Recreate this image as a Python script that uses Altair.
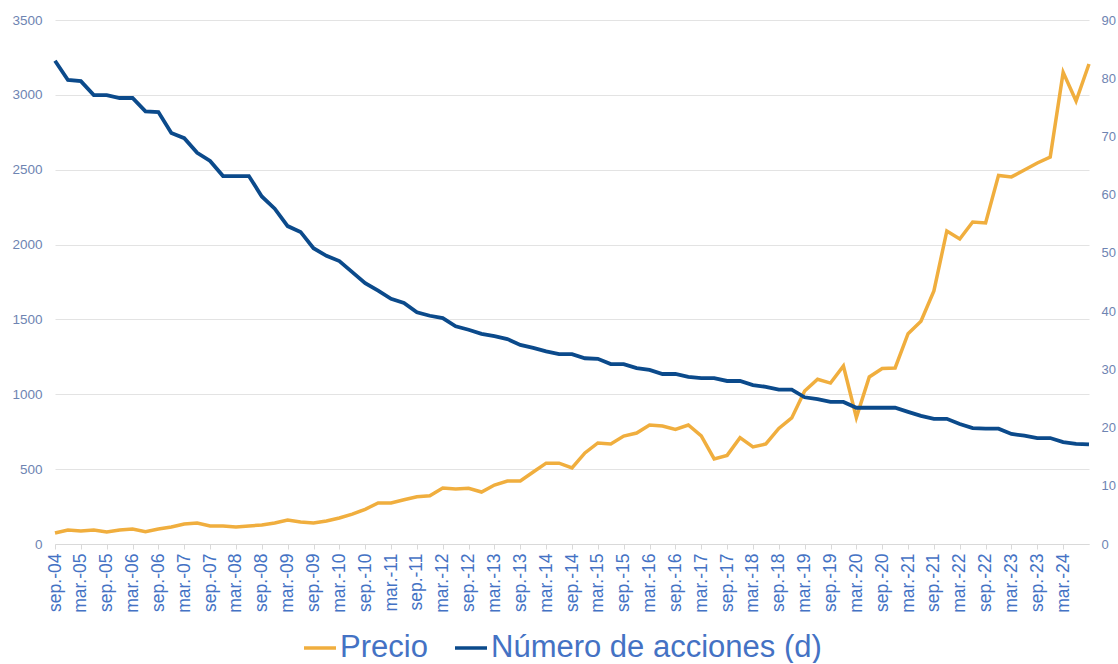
import altair as alt
import pandas as pd

# Quarterly periods sep-04 .. sep-24
meses = ["sep.", "dic.", "mar.", "jun."]
periodos = []
anio = 4
for i in range(81):
    m = meses[i % 4]
    if m == "mar.":
        anio += 1
    periodos.append(f"{m}-{anio:02d}")

precio = [73, 94, 87, 94, 80, 94, 100, 82, 100, 114, 134, 140, 120, 120, 114, 120,
          127, 140, 160, 147, 140, 154, 174, 200, 232, 274, 274, 296, 316, 322,
          374, 367, 372, 347, 394, 421, 421, 481, 540, 540, 508, 608, 675, 668,
          721, 741, 795, 788, 765, 795, 722, 568, 592, 710, 648, 668, 772, 842,
          1022, 1100, 1075, 1189, 845, 1116, 1172, 1176, 1405, 1488, 1690, 2091,
          2037, 2151, 2144, 2462, 2452, 2498, 2545, 2585, 3150, 2959, 3206]

acciones = [83.0, 79.7, 79.5, 77.1, 77.1, 76.6, 76.6, 74.3, 74.2, 70.6, 69.7, 67.2,
            65.8, 63.2, 63.2, 63.2, 59.7, 57.6, 54.6, 53.6, 50.8, 49.5, 48.6, 46.7,
            44.8, 43.5, 42.1, 41.4, 39.8, 39.2, 38.8, 37.4, 36.8, 36.1, 35.7, 35.2,
            34.2, 33.7, 33.1, 32.6, 32.6, 31.9, 31.8, 30.9, 30.9, 30.2, 29.9, 29.2,
            29.2, 28.7, 28.5, 28.5, 28.0, 28.0, 27.3, 27.0, 26.5, 26.5, 25.2, 24.9,
            24.4, 24.4, 23.4, 23.4, 23.4, 23.4, 22.7, 22.0, 21.5, 21.5, 20.6, 19.9,
            19.8, 19.8, 18.9, 18.6, 18.2, 18.2, 17.5, 17.2, 17.1]

series = ["Precio", "Número de acciones (d)"]
colores = ["#F0AE3E", "#0B4A8B"]
etiquetas_x = [p for i, p in enumerate(periodos) if i % 2 == 0 and i < 80]
ticks_izq = [0, 500, 1000, 1500, 2000, 2500, 3000, 3500]
ticks_der = [0, 10, 20, 30, 40, 50, 60, 70, 80, 90]

df_p = pd.DataFrame({"periodo": periodos, "valor": precio, "serie": series[0]})
df_a = pd.DataFrame({"periodo": periodos, "valor": acciones, "serie": series[1]})

FONT = "Liberation Sans"
LABEL_Y = "#6E84B2"
LABEL_X = "#4472C4"

x_enc = alt.X(
    "periodo:N",
    sort=periodos,
    scale=alt.Scale(type="point", padding=0),
    axis=alt.Axis(
        title=None,
        values=etiquetas_x,
        labelAngle=-90,
        labelFontSize=17.5,
        labelColor=LABEL_X,
        labelFont=FONT,
        labelOverlap=False,
        labelPadding=4,
        ticks=True,
        tickSize=5,
        tickColor="#D9D9D9",
        domainColor="#D9D9D9",
        grid=False,
        minExtent=70,
        maxExtent=70,
    ),
)

color_enc = alt.Color(
    "serie:N",
    scale=alt.Scale(domain=series, range=colores),
    sort=series,
    legend=alt.Legend(
        title=None,
        orient="none",
        legendX=247,
        legendY=610,
        direction="horizontal",
        symbolType="stroke",
        symbolSize=1024,
        symbolStrokeWidth=3.5,
        labelFontSize=31,
        labelFont=FONT,
        labelColor=LABEL_X,
        labelLimit=600,
        labelOffset=2,
        columnPadding=20,
    ),
)

precio_line = alt.Chart(df_p).mark_line(strokeWidth=3.5, strokeJoin="miter").encode(
    x=x_enc,
    y=alt.Y(
        "valor:Q",
        scale=alt.Scale(domain=[0, 3500], nice=False),
        axis=alt.Axis(
            title=None,
            orient="left",
            values=ticks_izq,
            format="d",
            labelFontSize=13.5,
            labelFont=FONT,
            labelColor=LABEL_Y,
            labelPadding=13,
            ticks=False,
            domain=False,
            grid=True,
            gridColor="#E3E3E3",
            gridWidth=1,
            minExtent=55,
            maxExtent=55,
        ),
    ),
    color=color_enc,
)

acciones_line = alt.Chart(df_a).mark_line(strokeWidth=3.8, strokeJoin="miter").encode(
    x=x_enc,
    y=alt.Y(
        "valor:Q",
        scale=alt.Scale(domain=[0, 90], nice=False),
        axis=alt.Axis(
            title=None,
            orient="right",
            values=ticks_der,
            format="d",
            labelFontSize=13,
            labelFont=FONT,
            labelColor=LABEL_Y,
            labelPadding=12,
            ticks=False,
            domain=False,
            grid=False,
            minExtent=29,
            maxExtent=29,
        ),
    ),
    color=color_enc,
)

chart = (
    alt.layer(precio_line, acciones_line)
    .resolve_scale(y="independent")
    .properties(
        width=1034,
        height=524,
        padding={"left": 0, "top": 13, "right": 0, "bottom": 0},
        background="white",
    )
    .configure_view(stroke=None)
)

chart.save("out.html", embed_options={"renderer": "svg", "actions": False})
